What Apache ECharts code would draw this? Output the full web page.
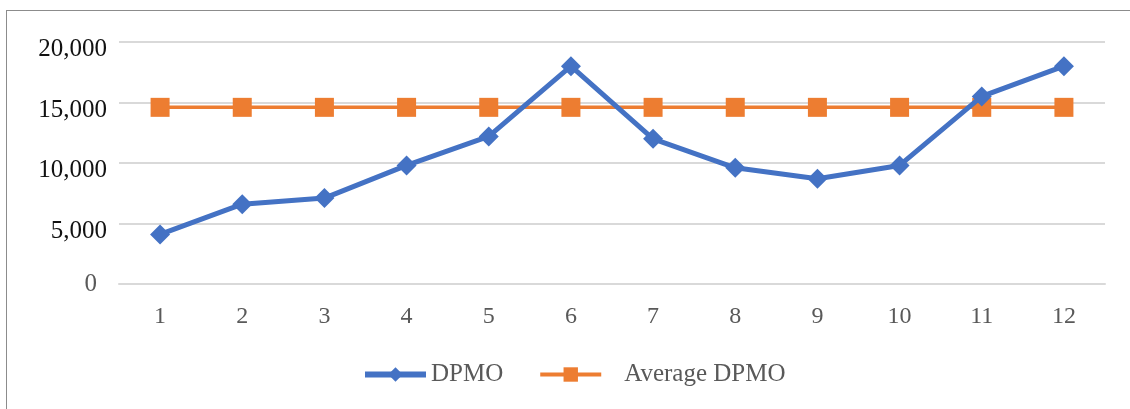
<!DOCTYPE html>
<html>
<head>
<meta charset="utf-8">
<script src="https://cdn.jsdelivr.net/npm/echarts@6/dist/echarts.min.js"></script>
<style>
  html, body { margin: 0; padding: 0; background: #fff; }
  #main { width: 1130px; height: 409px; }
  #frame { position: absolute; left: 6px; top: 10px; width: 1130px; height: 410px;
           border-left: 1px solid #8c8c8c; border-top: 1px solid #8c8c8c; pointer-events: none; }
</style>
</head>
<body>
<div id="main"></div>
<div id="frame"></div>
<script>
var months = ['1', '2', '3', '4', '5', '6', '7', '8', '9', '10', '11', '12'];
var dpmo = [4100, 6600, 7100, 9800, 12200, 18000, 12000, 9600, 8700, 9800, 15500, 18000];
var avgDpmo = [14600, 14600, 14600, 14600, 14600, 14600, 14600, 14600, 14600, 14600, 14600, 14600];

var chart = echarts.init(document.getElementById('main'));
var font = '"Liberation Serif", "Times New Roman", serif';

var option = {
    animation: false,
    grid: { left: 119, right: 25, top: 42, bottom: 125 },
    legend: {
        bottom: 17,
        left: 357,
        itemWidth: 61,
        itemHeight: 18,
        itemGap: 35,
        textStyle: { fontFamily: font, fontSize: 25, color: '#595959' },
        data: [
            { name: 'DPMO', lineStyle: { width: 6 } },
            { name: 'Average DPMO', lineStyle: { width: 4 }, textStyle: { padding: [0, 0, 0, 18] } }
        ]
    },
    xAxis: {
        type: 'category',
        data: months,
        axisLine: { lineStyle: { color: '#d9d9d9', width: 2 } },
        axisTick: { show: false },
        axisLabel: { fontFamily: font, fontSize: 24, color: '#595959', margin: 21 }
    },
    yAxis: {
        type: 'value',
        min: 0,
        max: 20000,
        interval: 5000,
        axisLine: { show: false },
        axisTick: { show: false },
        splitLine: { lineStyle: { color: '#d9d9d9', width: 2 } },
        axisLabel: {
            margin: 12,
            formatter: function (v) {
                if (v === 0) return '{g|0}';
                return '{n|' + v.toLocaleString('en-US') + '}';
            },
            rich: {
                g: { fontFamily: font, fontSize: 25, color: '#595959', padding: [0, 10, 0, 0] },
                n: { fontFamily: font, fontSize: 25, color: '#111', padding: [15, 0, 0, 0] }
            }
        }
    },
    series: [
        {
            name: 'Average DPMO',
            type: 'line',
            data: avgDpmo,
            symbol: 'rect',
            symbolSize: 19,
            lineStyle: { color: '#ED7D31', width: 3.5 },
            itemStyle: { color: '#ED7D31' },
            z: 2
        },
        {
            name: 'DPMO',
            type: 'line',
            data: dpmo,
            symbol: 'diamond',
            symbolSize: 20,
            lineStyle: { color: '#4472C4', width: 5 },
            itemStyle: { color: '#4472C4' },
            z: 3
        }
    ]
};

chart.setOption(option);
</script>
</body>
</html>
